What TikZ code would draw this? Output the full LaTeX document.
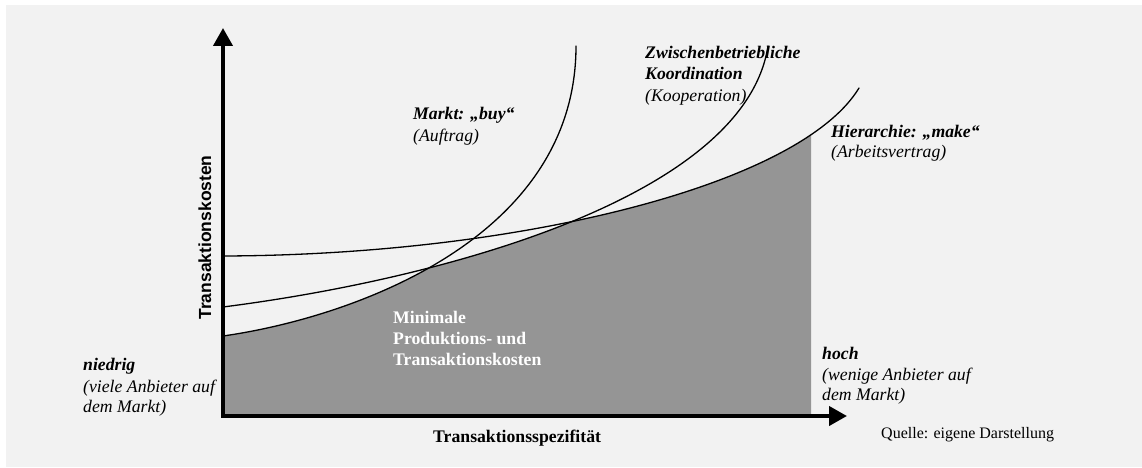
\documentclass[tikz,border=0pt]{standalone}
\usepackage{fontspec}
\setmainfont{Liberation Serif}
\newfontfamily\axisfont{Liberation Sans}
\usetikzlibrary{arrows.meta}
\definecolor{panel}{HTML}{F2F2F2}
\definecolor{areagray}{HTML}{959595}
\begin{document}
\begin{tikzpicture}[x=1pt,y=-1pt,
  curve/.style={line width=1.3pt, line cap=round},
  axisline/.style={line width=4pt,
    {Triangle[width=19pt,length=18pt]}-{Triangle[width=19pt,length=18pt]}},
  lab/.style={anchor=base west, inner sep=0pt,
    font=\fontsize{17.7}{21}\selectfont},
  head/.style={lab, font=\bfseries\itshape\fontsize{17.7}{21}\selectfont},
  sub/.style={lab, font=\itshape\fontsize{17.7}{21}\selectfont},
  area/.style={lab, text=white, font=\bfseries\fontsize{17.7}{21}\selectfont},
  srcnote/.style={anchor=base west, inner sep=0pt,
    font=\fontsize{16}{19}\selectfont}]

% page and panel
\useasboundingbox (0,0) rectangle (1142,468);
\fill[white] (0,0) rectangle (1142,468);
\fill[panel] (6,5) rectangle (1142,467);

% cost curves: control points
\coordinate (m0) at (223,336); \coordinate (m1) at (350,318);
\coordinate (m2) at (576,240); \coordinate (m3) at (576,46);
\coordinate (k0) at (223,307); \coordinate (k1) at (450,278);
\coordinate (k2) at (745,195); \coordinate (k3) at (768,46);
\coordinate (h0) at (223,256); \coordinate (h1) at (520,255);
\coordinate (h2) at (800,185); \coordinate (h3) at (859,88);

% minimal cost area below the lower envelope
\begin{scope}
  \clip (223,416) rectangle (811,0);
  \clip (m0) .. controls (m1) and (m2) .. (m3) -- (1000,46) -- (1000,416) -- (223,416) -- cycle;
  \clip (k0) .. controls (k1) and (k2) .. (k3) -- (1000,46) -- (1000,416) -- (223,416) -- cycle;
  \fill[areagray] (h0) .. controls (h1) and (h2) .. (h3) -- (1000,88) -- (1000,416) -- (223,416) -- cycle;
\end{scope}

\draw[curve] (m0) .. controls (m1) and (m2) .. (m3);
\draw[curve] (k0) .. controls (k1) and (k2) .. (k3);
\draw[curve] (h0) .. controls (h1) and (h2) .. (h3);

% axes
\coordinate (ytip) at (223,28);
\coordinate (origin) at (223,416);
\coordinate (xtip) at (847,416);
\draw[axisline] (ytip) -- (origin) -- (xtip);

% axis titles
\node[rotate=90, anchor=base, inner sep=0pt,
  font=\axisfont\bfseries\fontsize{17.5}{20}\selectfont] (ylab) at (211,237.5) {Transaktionskosten};
\node[lab, font=\bfseries\fontsize{17.7}{21}\selectfont] (xlab) at (433,442) {Transaktionsspezifität};

% curve labels
\node[head] (markt)  at (413,120) {Markt: „buy“};
\node[sub]  (markt2) at (413,141) {(Auftrag)};
\node[head] (koop)   at (645,59)  {Zwischenbetriebliche};
\node[head] (koop2)  at (645,80)  {Koordination};
\node[sub]  (koop3)  at (645,102) {(Kooperation)};
\node[head] (hier)   at (831,137) {Hierarchie: „make“};
\node[sub]  (hier2)  at (831,157) {(Arbeitsvertrag)};

% area label
\node[area] (min1) at (393,323) {Minimale};
\node[area] (min2) at (393,344) {Produktions- und};
\node[area] (min3) at (393,365) {Transaktionskosten};

% axis end labels
\node[head] (low)   at (83,370) {niedrig};
\node[sub]  (low2)  at (83,392) {(viele Anbieter auf};
\node[sub]  (low3)  at (83,412) {dem Markt)};
\node[head] (high)  at (822,359) {hoch};
\node[sub]  (high2) at (822,380) {(wenige Anbieter auf};
\node[sub]  (high3) at (822,400) {dem Markt)};

% source
\node[srcnote] (quelle) at (881,438) {Quelle: eigene Darstellung};
\end{tikzpicture}
\end{document}
